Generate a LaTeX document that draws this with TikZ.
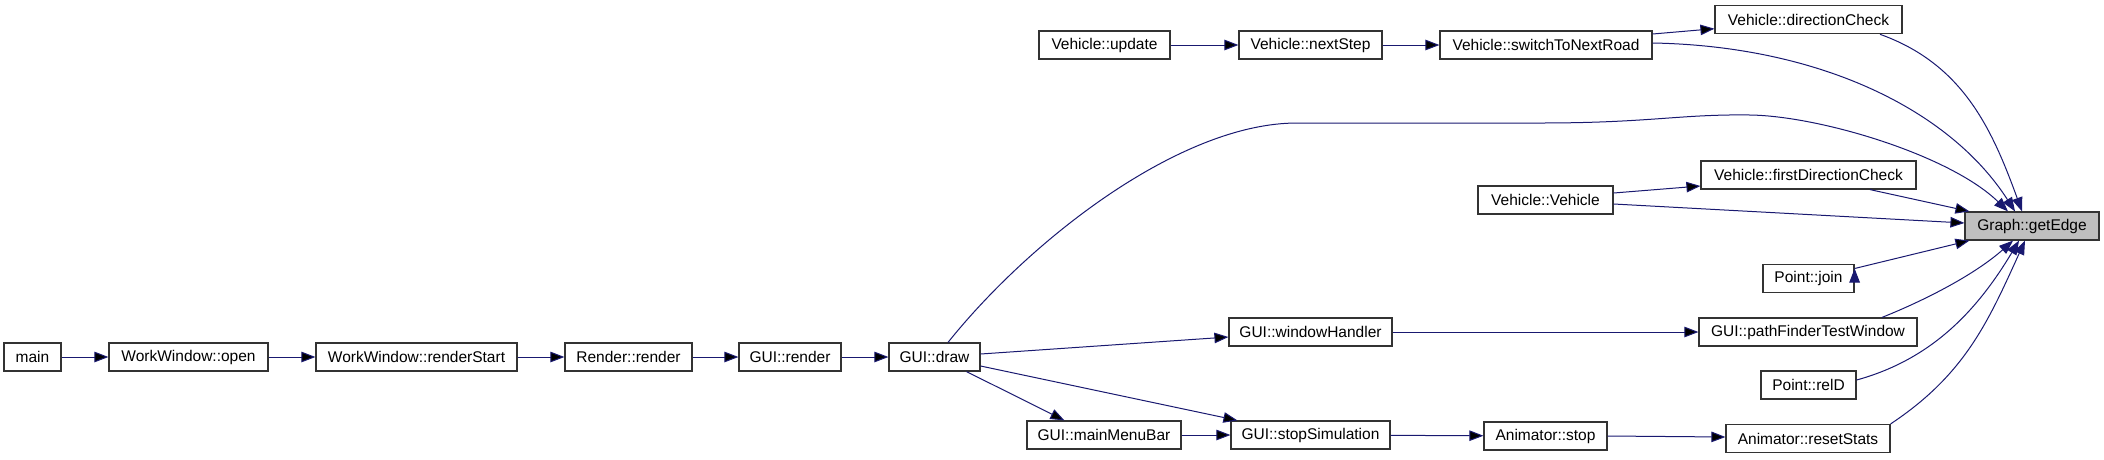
\documentclass[tikz,border=0pt]{standalone}
\usepackage{fontspec}
\setmainfont{Liberation Sans}
\usetikzlibrary{arrows.meta}
\definecolor{midnightblue}{RGB}{25,25,112}
\definecolor{boxgray}{RGB}{191,191,191}

\begin{document}
\begin{tikzpicture}[x=1pt,y=-1pt,
    >={Triangle[length=14pt,width=10.5pt]},
    fn/.style={draw=black!80, line width=1.2pt, fill=white, inner sep=0pt,
      minimum height=28pt, font=\fontsize{15.5}{18}\selectfont},
    call/.style={->, draw=midnightblue, line width=1pt}]
    \useasboundingbox (0,0) rectangle (2104,459);
    % call chain from main
    \node[fn, minimum width=57pt] (main) at (32.5,357) {main};
    \node[fn, minimum width=159pt] (wwopen) at (188.5,357) {WorkWindow::open};
    \node[fn, minimum width=201pt] (wwstart) at (416.5,357) {WorkWindow::renderStart};
    \node[fn, minimum width=127pt] (rrender) at (628.5,357) {Render::render};
    \node[fn, minimum width=102pt] (grender) at (790,357) {GUI::render};
    \node[fn, minimum width=91pt] (gdraw) at (934.5,357) {GUI::draw};
    \node[fn, minimum width=154pt] (gmenu) at (1104,435) {GUI::mainMenuBar};
    \node[fn, minimum width=159pt] (gstop) at (1310.5,435) {GUI::stopSimulation};
    \node[fn, minimum width=123pt] (astop) at (1545.5,436) {Animator::stop};
    \node[fn, minimum width=164pt] (areset) at (1808,438.5) {Animator::resetStats};
    \node[fn, minimum width=163pt] (gwin) at (1310.5,332) {GUI::windowHandler};
    \node[fn, minimum width=218pt] (gpath) at (1808,332) {GUI::pathFinderTestWindow};
    \node[fn, minimum width=95pt] (prelD) at (1808.5,385) {Point::relD};
    \node[fn, minimum width=91pt] (pjoin) at (1808.5,278.5) {Point::join};
    % vehicle side
    \node[fn, minimum width=131pt] (vupdate) at (1104.5,45) {Vehicle::update};
    \node[fn, minimum width=143pt] (vnext) at (1310.5,45) {Vehicle::nextStep};
    \node[fn, minimum width=212pt] (vswitch) at (1546,45) {Vehicle::switchToNextRoad};
    \node[fn, minimum width=187pt] (vdir) at (1808.5,19.7) {Vehicle::directionCheck};
    \node[fn, minimum width=135pt] (vvehicle) at (1545.5,200) {Vehicle::Vehicle};
    \node[fn, minimum width=215pt] (vfirst) at (1808.5,175) {Vehicle::firstDirectionCheck};
    % callee
    \node[fn, minimum width=134pt, fill=boxgray] (getedge) at (2032,226) {Graph::getEdge};

    \path[call]
    (main) edge (wwopen)
    (wwopen) edge (wwstart)
    (wwstart) edge (rrender)
    (rrender) edge (grender)
    (grender) edge (gdraw)
    ([yshift=3pt]gdraw.east) edge ([yshift=-5pt]gwin.west)
    ([yshift=-9pt]gdraw.east) edge ([xshift=7pt]gstop.north west)
    ([xshift=32pt]gdraw.south) edge ([xshift=38pt]gmenu.north west)
    (gmenu) edge (gstop)
    (gstop) edge (astop)
    (astop.east) edge ([yshift=1.5pt]areset.west)
    (gwin) edge (gpath)
    (vupdate) edge (vnext)
    (vnext) edge (vswitch)
    ([yshift=11pt]vswitch.east) edge ([yshift=-9pt]vdir.west)
    ([yshift=7pt]vvehicle.east) edge ([yshift=-11pt]vfirst.west)
    ([yshift=-4pt]vvehicle.east) edge ([yshift=3pt]getedge.west)
    ([xshift=61.5pt]vfirst.south) edge ([xshift=5pt]getedge.north west)
    ([yshift=10pt]pjoin.east) edge ([xshift=5pt]getedge.south west);

    % curved calls into Graph::getEdge
    \draw[call] ([xshift=71.5pt]vdir.south) .. controls (1963,64) and (1992,129) .. ([xshift=-10pt]getedge.north);
    \draw[call] ([yshift=2pt]vswitch.east) .. controls (1820,46) and (1950,110) .. ([xshift=-17pt]getedge.north);
    \draw[call] ([xshift=13.5pt]gdraw.north) .. controls (1030,240) and (1180,123) .. (1297,123)
      -- (1540,123) .. controls (1650,123) and (1680,114) .. (1750,115)
      .. controls (1820,116) and (1950,155) .. ([xshift=-24pt]getedge.north);
    \draw[call] ([xshift=74pt]gpath.north) .. controls (1928,299) and (1976,273.5) .. ([xshift=-19pt]getedge.south);
    \draw[call] ([yshift=5pt]prelD.east) .. controls (1933,359) and (1978,309) .. ([xshift=-13pt]getedge.south);
    \draw[call] (areset.north east) .. controls (1965,374.5) and (1988,322) .. ([xshift=-7pt]getedge.south);
  \end{tikzpicture}
\end{document}
